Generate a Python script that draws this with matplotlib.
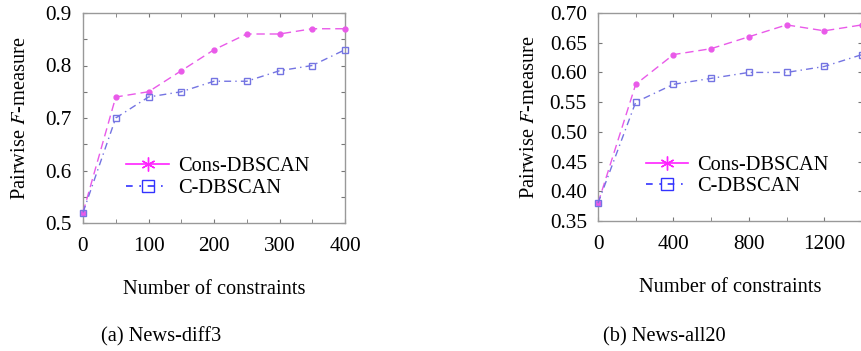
import numpy as np
import matplotlib.pyplot as plt
from matplotlib.lines import Line2D

# === DATA ===
x_diff3 = [0, 50, 100, 150, 200, 250, 300, 350, 400]
cons_diff3 = [0.52, 0.74, 0.75, 0.79, 0.83, 0.86, 0.86, 0.87, 0.87]
cdb_diff3 = [0.52, 0.70, 0.74, 0.75, 0.77, 0.77, 0.79, 0.80, 0.83]

x_all20 = [0, 200, 400, 600, 800, 1000, 1200, 1400]
cons_all20 = [0.38, 0.58, 0.63, 0.64, 0.66, 0.68, 0.67, 0.68]
cdb_all20 = [0.38, 0.55, 0.58, 0.59, 0.60, 0.60, 0.61, 0.63]

MAGENTA = "#e95ae9"
BLUE = "#7474e2"
FS = 14.7
TICK_FS = 15.3

plt.rcParams['font.family'] = ['Liberation Serif', 'DejaVu Serif']
plt.rcParams['mathtext.fontset'] = 'stix'

W, H = 861, 351
fig = plt.figure(figsize=(W / 100, H / 100), dpi=100)

# axes rectangles from pixel positions
ax1 = fig.add_axes([83 / W, 1 - 223 / H, (345 - 83) / W, (223 - 13) / H])
ax2 = fig.add_axes([598 / W, 1 - 221 / H, (862 - 598) / W, (221 - 13) / H])

def style(ax, xlim, ylim, xmajor, xminor, yticks, yfmt, ypad):
    ax.set_xlim(*xlim)
    ax.set_ylim(*ylim)
    ax.set_xticks(xmajor)
    ax.set_xticks(xminor, minor=True)
    ax.set_yticks(yticks)
    ax.set_yticklabels([yfmt(v) for v in yticks])
    for s in ax.spines.values():
        s.set_color("#999999")
        s.set_linewidth(1.0)
    ax.tick_params(which='both', direction='in', top=True, right=True,
                   color="#777777", length=3, labelsize=TICK_FS)
    ax.tick_params(axis='x', pad=10)
    ax.tick_params(axis='y', pad=8)
    ax.set_xlabel("Number of constraints", fontsize=FS, labelpad=17)
    ax.set_ylabel("Pairwise $F$-measure", fontsize=FS, labelpad=ypad)

def draw(ax, x, cons, cdb, lx):
    ax.plot(x, cons, color=MAGENTA, ls=(0, (6, 3.5)), lw=1.0,
            marker='o', ms=3.5, mec=MAGENTA, mfc=MAGENTA, clip_on=False, zorder=3)
    ax.plot(x, cdb, color=BLUE, ls=(0, (5, 3, 1, 3)), lw=1.0,
            marker='s', ms=5, mec=BLUE, mfc='none', clip_on=False, zorder=3)
    handles = [
        Line2D([], [], color="#ff22ff", ls='-', lw=1.2, marker=(6, 2, 0), ms=10),
        Line2D([], [], color="#3333ff", ls=(0, (4, 4, 1, 4)), lw=1.2,
               marker='s', ms=8, mfc='none'),
    ]
    ax.legend(handles, ["Cons-DBSCAN", "C-DBSCAN"], frameon=False,
              fontsize=FS, loc='lower left', bbox_to_anchor=(lx, 0.12),
              handlelength=2.1, handletextpad=0.45, labelspacing=0.1,
              borderaxespad=0, borderpad=0)

draw(ax1, x_diff3, cons_diff3, cdb_diff3, 0.165)
style(ax1, (0, 400), (0.5, 0.9), [0, 100, 200, 300, 400],
      [50, 150, 250, 350], np.arange(0.5, 0.91, 0.05).round(2),
      lambda v: f"{v:.1f}" if round(v * 100) % 10 == 0 else "", 11)

draw(ax2, x_all20, cons_all20, cdb_all20, 0.18)
style(ax2, (0, 1400), (0.35, 0.70), [0, 400, 800, 1200],
      [200, 600, 1000, 1400], np.arange(0.35, 0.701, 0.05).round(2),
      lambda v: f"{v:.2f}", 8)

fig.text(161 / W, 1 - 337 / H, "(a) News-diff3", ha='center', va='center', fontsize=FS)
fig.text(664 / W, 1 - 337 / H, "(b) News-all20", ha='center', va='center', fontsize=FS)

plt.savefig("out.png", dpi=100)
